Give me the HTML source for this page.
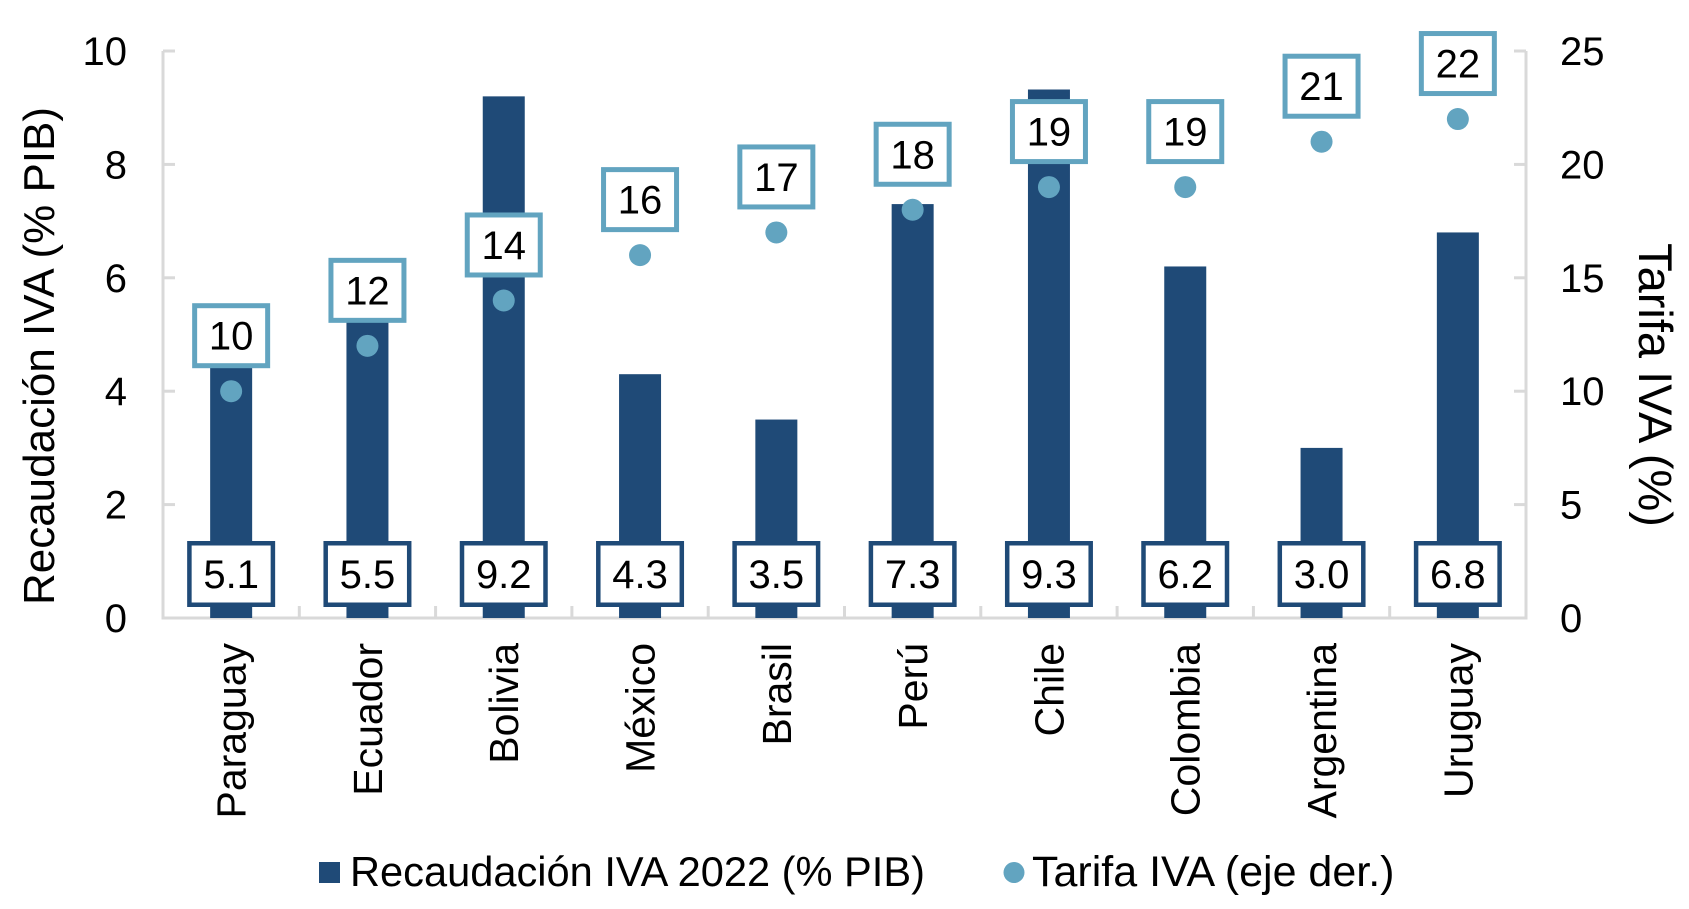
<!DOCTYPE html>
<html>
<head>
<meta charset="utf-8">
<style>
  html, body { margin: 0; padding: 0; background: #ffffff; }
  svg { display: block; }
  text { font-family: "Liberation Sans", Arial, sans-serif; fill: #000; }
</style>
</head>
<body>
<svg width="1689" height="909" viewBox="0 0 1689 909" xmlns="http://www.w3.org/2000/svg">
  <rect x="0" y="0" width="1689" height="909" fill="#ffffff"/>

  <!-- Axes -->
  <g stroke="#d9d9d9" stroke-width="3" fill="none">
    <line x1="163" y1="51" x2="163" y2="619.5"/>
    <line x1="1526" y1="51" x2="1526" y2="619.5"/>
    <line x1="161.5" y1="618" x2="1527.5" y2="618"/>
    <!-- left ticks -->
    <line x1="163" y1="51" x2="175" y2="51"/>
    <line x1="163" y1="164.4" x2="175" y2="164.4"/>
    <line x1="163" y1="277.8" x2="175" y2="277.8"/>
    <line x1="163" y1="391.2" x2="175" y2="391.2"/>
    <line x1="163" y1="504.6" x2="175" y2="504.6"/>
    <!-- right ticks -->
    <line x1="1514" y1="51" x2="1526" y2="51"/>
    <line x1="1514" y1="164.4" x2="1526" y2="164.4"/>
    <line x1="1514" y1="277.8" x2="1526" y2="277.8"/>
    <line x1="1514" y1="391.2" x2="1526" y2="391.2"/>
    <line x1="1514" y1="504.6" x2="1526" y2="504.6"/>
    <!-- bottom ticks -->
    <line x1="299.3" y1="606" x2="299.3" y2="618"/>
    <line x1="435.6" y1="606" x2="435.6" y2="618"/>
    <line x1="571.9" y1="606" x2="571.9" y2="618"/>
    <line x1="708.2" y1="606" x2="708.2" y2="618"/>
    <line x1="844.5" y1="606" x2="844.5" y2="618"/>
    <line x1="980.8" y1="606" x2="980.8" y2="618"/>
    <line x1="1117.1" y1="606" x2="1117.1" y2="618"/>
    <line x1="1253.4" y1="606" x2="1253.4" y2="618"/>
    <line x1="1389.7" y1="606" x2="1389.7" y2="618"/>
  </g>

  <!-- Left tick labels -->
  <g font-size="40" text-anchor="end">
    <text x="127" y="65">10</text>
    <text x="127" y="178.4">8</text>
    <text x="127" y="291.8">6</text>
    <text x="127" y="405.2">4</text>
    <text x="127" y="518.6">2</text>
    <text x="127" y="632">0</text>
  </g>
  <!-- Right tick labels -->
  <g font-size="40" text-anchor="start">
    <text x="1560" y="65">25</text>
    <text x="1560" y="178.4">20</text>
    <text x="1560" y="291.8">15</text>
    <text x="1560" y="405.2">10</text>
    <text x="1560" y="518.6">5</text>
    <text x="1560" y="632">0</text>
  </g>

  <!-- Axis titles -->
  <text font-size="44" text-anchor="middle" transform="translate(54,356) rotate(-90)">Recaudación IVA (% PIB)</text>
  <text font-size="47" text-anchor="middle" transform="translate(1639,385) rotate(90)">Tarifa IVA (%)</text>

  <!-- Bars -->
  <g fill="#1f4a77">
    <rect x="210.15" y="328.83" width="42" height="289.17"/>
    <rect x="346.45" y="306.15" width="42" height="311.85"/>
    <rect x="482.75" y="96.36" width="42" height="521.64"/>
    <rect x="619.05" y="374.19" width="42" height="243.81"/>
    <rect x="755.35" y="419.55" width="42" height="198.45"/>
    <rect x="891.65" y="204.09" width="42" height="413.91"/>
    <rect x="1027.95" y="89.5" width="42" height="528.5"/>
    <rect x="1164.25" y="266.46" width="42" height="351.54"/>
    <rect x="1300.55" y="447.9" width="42" height="170.1"/>
    <rect x="1436.85" y="232.44" width="42" height="385.56"/>
  </g>

  <!-- Dots -->
  <g fill="#62a4c0">
    <circle cx="231.15" cy="391.2" r="11"/>
    <circle cx="367.45" cy="345.84" r="11"/>
    <circle cx="503.75" cy="300.48" r="11"/>
    <circle cx="640.05" cy="255.12" r="11"/>
    <circle cx="776.35" cy="232.44" r="11"/>
    <circle cx="912.65" cy="209.76" r="11"/>
    <circle cx="1048.95" cy="187.08" r="11"/>
    <circle cx="1185.25" cy="187.08" r="11"/>
    <circle cx="1321.55" cy="141.72" r="11"/>
    <circle cx="1457.85" cy="119.04" r="11"/>
  </g>

  <!-- Bottom value boxes -->
  <g fill="#ffffff" stroke="#1f4a77" stroke-width="4.5">
    <rect x="189.4" y="543.25" width="83.5" height="61.5"/>
    <rect x="325.7" y="543.25" width="83.5" height="61.5"/>
    <rect x="462" y="543.25" width="83.5" height="61.5"/>
    <rect x="598.3" y="543.25" width="83.5" height="61.5"/>
    <rect x="734.6" y="543.25" width="83.5" height="61.5"/>
    <rect x="870.9" y="543.25" width="83.5" height="61.5"/>
    <rect x="1007.2" y="543.25" width="83.5" height="61.5"/>
    <rect x="1143.5" y="543.25" width="83.5" height="61.5"/>
    <rect x="1279.8" y="543.25" width="83.5" height="61.5"/>
    <rect x="1416.1" y="543.25" width="83.5" height="61.5"/>
  </g>
  <g font-size="40" text-anchor="middle">
    <text x="231.15" y="588">5.1</text>
    <text x="367.45" y="588">5.5</text>
    <text x="503.75" y="588">9.2</text>
    <text x="640.05" y="588">4.3</text>
    <text x="776.35" y="588">3.5</text>
    <text x="912.65" y="588">7.3</text>
    <text x="1048.95" y="588">9.3</text>
    <text x="1185.25" y="588">6.2</text>
    <text x="1321.55" y="588">3.0</text>
    <text x="1457.85" y="588">6.8</text>
  </g>

  <!-- Top rate boxes -->
  <g fill="#ffffff" stroke="#62a4c0" stroke-width="5">
    <rect x="194.65" y="305.7" width="73" height="60"/>
    <rect x="330.95" y="260.34" width="73" height="60"/>
    <rect x="467.25" y="214.98" width="73" height="60"/>
    <rect x="603.55" y="169.62" width="73" height="60"/>
    <rect x="739.85" y="146.94" width="73" height="60"/>
    <rect x="876.15" y="124.26" width="73" height="60"/>
    <rect x="1012.45" y="101.58" width="73" height="60"/>
    <rect x="1148.75" y="101.58" width="73" height="60"/>
    <rect x="1285.05" y="56.22" width="73" height="60"/>
    <rect x="1421.35" y="33.54" width="73" height="60"/>
  </g>
  <g font-size="40" text-anchor="middle">
    <text x="231.15" y="349.7">10</text>
    <text x="367.45" y="304.34">12</text>
    <text x="503.75" y="258.98">14</text>
    <text x="640.05" y="213.62">16</text>
    <text x="776.35" y="190.94">17</text>
    <text x="912.65" y="168.26">18</text>
    <text x="1048.95" y="145.58">19</text>
    <text x="1185.25" y="145.58">19</text>
    <text x="1321.55" y="100.22">21</text>
    <text x="1457.85" y="77.54">22</text>
  </g>

  <!-- Category labels -->
  <g font-size="41" text-anchor="end">
    <text transform="translate(245.6,643) rotate(-90)">Paraguay</text>
    <text transform="translate(381.9,643) rotate(-90)">Ecuador</text>
    <text transform="translate(518.2,643) rotate(-90)">Bolivia</text>
    <text transform="translate(654.5,643) rotate(-90)">México</text>
    <text transform="translate(790.8,643) rotate(-90)">Brasil</text>
    <text transform="translate(927.1,643) rotate(-90)">Perú</text>
    <text transform="translate(1063.4,643) rotate(-90)">Chile</text>
    <text transform="translate(1199.7,643) rotate(-90)">Colombia</text>
    <text transform="translate(1336,643) rotate(-90)">Argentina</text>
    <text transform="translate(1472.3,643) rotate(-90)">Uruguay</text>
  </g>

  <!-- Legend -->
  <rect x="319" y="862" width="21" height="21" fill="#1f4a77"/>
  <text x="350" y="886" font-size="41.6">Recaudación IVA 2022 (% PIB)</text>
  <circle cx="1014" cy="872.5" r="10.5" fill="#62a4c0"/>
  <text x="1032" y="886" font-size="43">Tarifa IVA (eje der.)</text>
</svg>
</body>
</html>
